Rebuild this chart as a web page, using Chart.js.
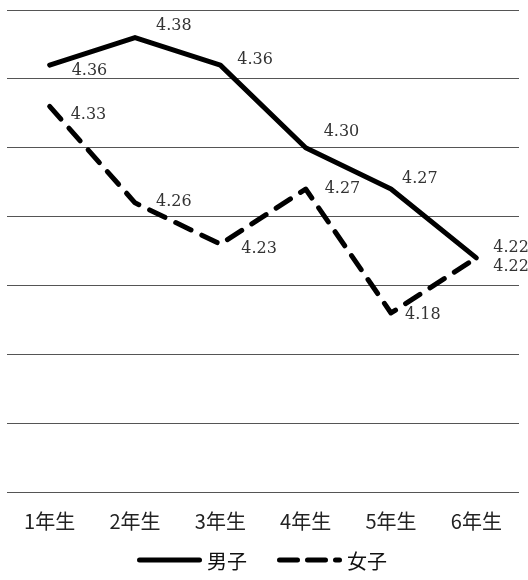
<!DOCTYPE html>
<html>
<head>
<meta charset="utf-8">
<script src="https://cdn.jsdelivr.net/npm/chart.js@4.4.1/dist/chart.umd.min.js"></script>
<style>
  html, body { margin: 0; padding: 0; background: #fff; }
  #wrap { width: 528px; height: 580px; }
</style>
</head>
<body>
<div id="wrap"><canvas id="c"></canvas></div>
<script>
// Grades on the x axis
const grades = ['1年生', '2年生', '3年生', '4年生', '5年生', '6年生'];
// Mean scores per grade
const boys  = [4.36, 4.38, 4.36, 4.30, 4.27, 4.22];
const girls = [4.33, 4.26, 4.23, 4.27, 4.18, 4.22];
// Value axis range and gridline step
const yMin = 4.05;
const yMax = 4.40;
const yStep = 0.05;

// Where each value label sits relative to its point (dx, dy in px)
const boyLabelOffsets  = [[22, 6], [21, -12], [17, -5], [18, -16], [11, -10], [17, -10]];
const girlLabelOffsets = [[21, 8], [21, -1], [21, 5], [19, 0], [14, 2], [17, 9]];

const valueLabels = {
  id: 'valueLabels',
  afterDatasetsDraw(chart, args, opts) {
    const ctx = chart.ctx;
    ctx.save();
    ctx.font = opts.font;
    ctx.fillStyle = opts.color;
    ctx.textAlign = 'left';
    ctx.textBaseline = 'middle';
    chart.data.datasets.forEach((ds, di) => {
      const meta = chart.getDatasetMeta(di);
      const offs = opts.offsets[di];
      meta.data.forEach((pt, i) => {
        const [dx, dy] = offs[i];
        ctx.fillText(ds.data[i].toFixed(2), pt.x + dx, pt.y + dy);
      });
    });
    ctx.restore();
  }
};

// Series key drawn under the axis, using each dataset's own line style
const seriesKey = {
  id: 'seriesKey',
  afterDraw(chart, args, opts) {
    const ctx = chart.ctx;
    ctx.save();
    chart.data.datasets.forEach((ds, i) => {
      const x = opts.x[i];
      const y = opts.y;
      ctx.lineWidth = ds.borderWidth;
      ctx.strokeStyle = ds.borderColor;
      ctx.lineCap = 'round';
      ctx.setLineDash(ds.borderDash ? opts.dash : []);
      ctx.beginPath();
      ctx.moveTo(x + 2.5, y);
      ctx.lineTo(x + opts.lineLength - 2.5, y);
      ctx.stroke();
      ctx.setLineDash([]);
      ctx.font = opts.font;
      ctx.fillStyle = opts.color;
      ctx.textAlign = 'left';
      ctx.textBaseline = 'middle';
      ctx.fillText(ds.label, x + opts.lineLength + opts.gap, y + 1);
    });
    ctx.restore();
  }
};

new Chart(document.getElementById('c'), {
  type: 'line',
  data: {
    labels: grades,
    datasets: [
      {
        label: '男子',
        data: boys,
        borderColor: '#000',
        borderWidth: 5,
        borderJoinStyle: 'round',
        borderCapStyle: 'round',
        pointRadius: 0,
        tension: 0,
        fill: false
      },
      {
        label: '女子',
        data: girls,
        borderColor: '#000',
        borderWidth: 5,
        borderDash: [17, 12],
        borderJoinStyle: 'round',
        borderCapStyle: 'round',
        pointRadius: 0,
        tension: 0,
        fill: false
      }
    ]
  },
  options: {
    responsive: true,
    maintainAspectRatio: false,
    animation: false,
    devicePixelRatio: 1,
    layout: { padding: { top: 10, left: 7, right: 9, bottom: 30 } },
    scales: {
      x: {
        offset: true,
        grid: { display: false, drawTicks: false },
        border: { display: false },
        ticks: {
          color: '#222',
          padding: 17,
          font: { family: "'Noto Sans CJK JP', sans-serif", size: 20 }
        }
      },
      y: {
        min: yMin,
        max: yMax,
        ticks: { display: false, stepSize: yStep },
        grid: { color: '#555', lineWidth: 1, drawTicks: false },
        border: { display: false },
        afterFit(scale) { scale.width = 0; }
      }
    },
    plugins: {
      legend: { display: false },
      tooltip: { enabled: false },
      valueLabels: {
        font: "16px 'DejaVu Serif', serif",
        color: '#333',
        offsets: [boyLabelOffsets, girlLabelOffsets]
      },
      seriesKey: {
        x: [137, 277],
        y: 560,
        lineLength: 65,
        gap: 5,
        dash: [18, 10],
        font: "20px 'Noto Sans CJK JP', sans-serif",
        color: '#111'
      }
    }
  },
  plugins: [valueLabels, seriesKey]
});
</script>
</body>
</html>
